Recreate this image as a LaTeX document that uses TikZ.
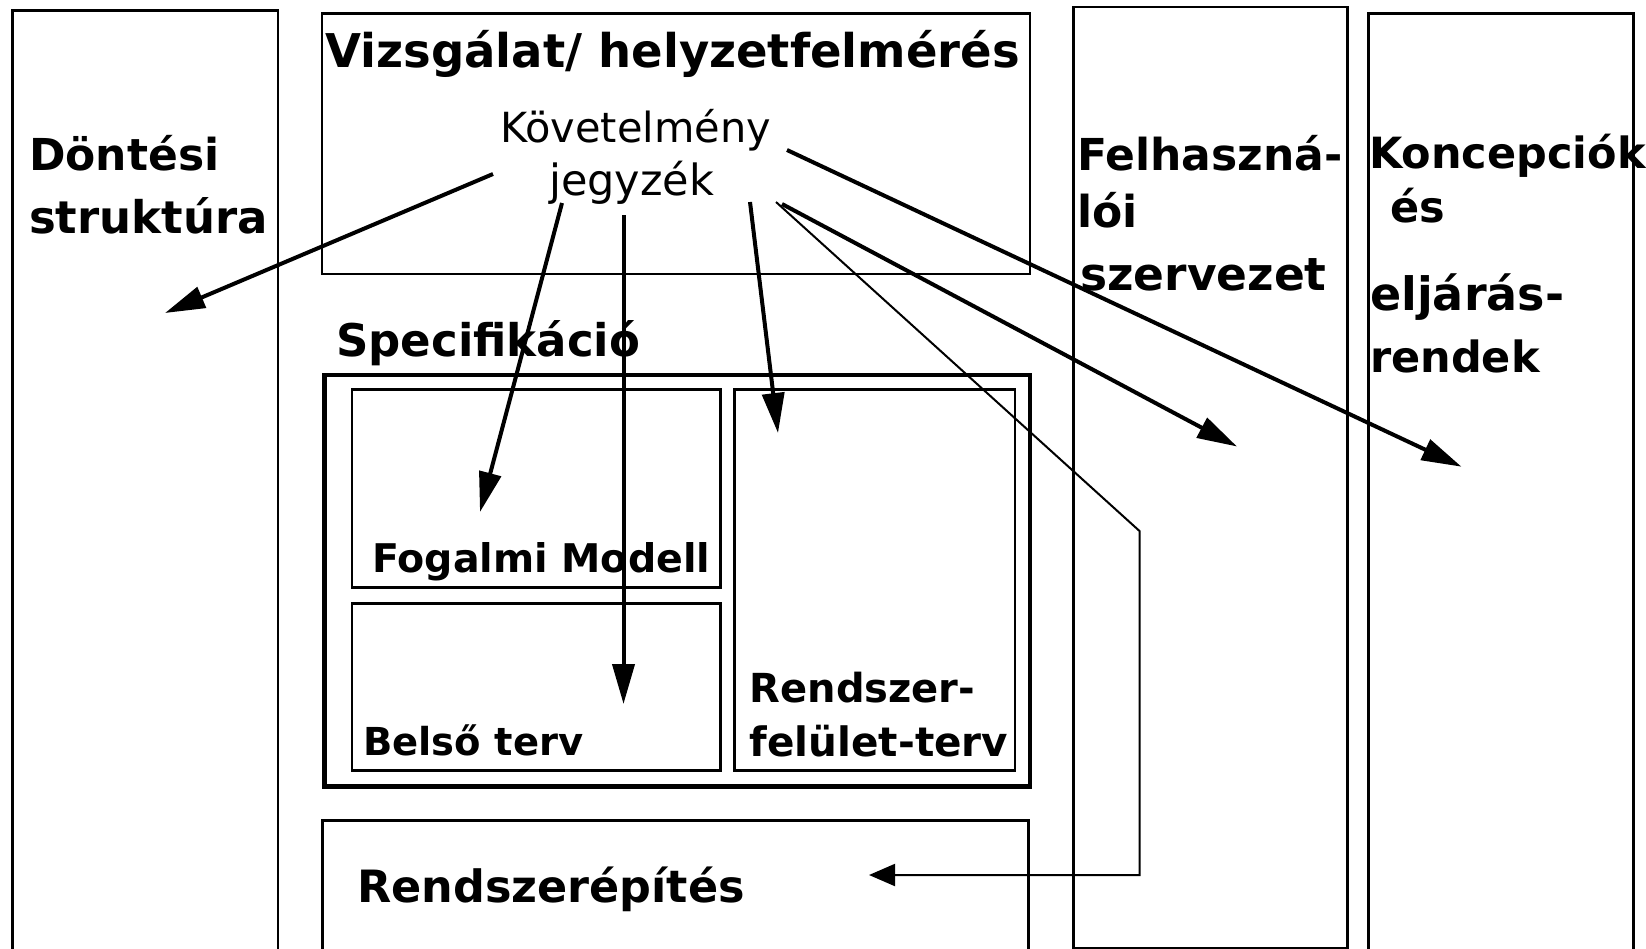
\documentclass[tikz,border=0pt]{standalone}
\usepackage{fontspec}
\setmainfont{DejaVu Sans}
\usepackage{tikz}
\usetikzlibrary{arrows.meta}
\tikzset{
  Kasten/.style={draw,line width=#1,inner sep=0pt,anchor=north west}, % Rahmen
  Kasten/.default=2.5pt,
  Pfeil/.style={line width=4pt,-{Triangle[length=40pt,width=22pt]}}, % dicke Pfeile
  DPfeil/.style={line width=2pt,-{Triangle[length=26pt,width=22pt]}}, % duenner Pfeil
  Schrift/.style={inner sep=0pt,anchor=base west,font=\bfseries\fontsize{#1}{#1}\selectfont},
  DSchrift/.style={inner sep=0pt,anchor=base west,font=\fontsize{#1}{#1}\selectfont}
}

\begin{document}
\begin{tikzpicture}[x=1pt,y=-1pt]
\useasboundingbox (0,0) rectangle (1646,948);

%Kaesten
\node[Kasten,minimum width=265.6pt,minimum height=960pt] (DS) at (11,9.3) {};
\node[Kasten,minimum width=708.1pt,minimum height=260.4pt] (VH) at (320.7,12.3) {};
\node[Kasten=4.5pt,minimum width=705.5pt,minimum height=411.5pt] (SP) at (322,372.5) {};
\node[Kasten,minimum width=368.5pt,minimum height=198pt] (FM) at (350.5,388) {};
\node[Kasten,minimum width=368.5pt,minimum height=167pt] (BT) at (350.5,602) {};
\node[Kasten,minimum width=280.5pt,minimum height=381pt] (RF) at (733,388) {};
\node[Kasten,minimum width=706pt,minimum height=160pt] (RE) at (321,819) {};
\node[Kasten,minimum width=274.4pt,minimum height=941pt] (FS) at (1072,5.7) {};
\node[Kasten,minimum width=264.6pt,minimum height=960pt] (KE) at (1367.4,12.3) {};

%Texte
\node[Schrift=46.5] (tVH) at (325,67) {Vizsgálat/ helyzetfelmérés};
\node[DSchrift=41.5] (tKov) at (500,142) {Követelmény};
\node[DSchrift=43] (tJeg) at (549,195) {jegyzék};
\node[Schrift=44] (tDS1) at (29,170) {Döntési};
\node[Schrift=45] (tDS2) at (29,233) {struktúra};
\node[Schrift=45] (tSP) at (336,356) {Specifikáció};
\node[Schrift=39.5] (tFM) at (372,572) {Fogalmi Modell};
\node[Schrift=38.5] (tBT) at (363,755) {Belső terv};
\node[Schrift=40] (tRF1) at (749.5,702) {Rendszer-};
\node[Schrift=40.5] (tRF2) at (749.5,756) {felület-terv};
\node[Schrift=44.5] (tRE) at (357,902) {Rendszerépítés};
\node[Schrift=44] (tFS1) at (1077,170) {Felhaszná-};
\node[Schrift=44] (tFS2) at (1077,227) {lói};
\node[Schrift=45.5] (tFS3) at (1080,290) {szervezet};
\node[Schrift=43] (tKE1) at (1369,168) {Koncepciók};
\node[Schrift=43] (tKE2) at (1390,222) {és};
\node[Schrift=46] (tKE3) at (1370,310) {eljárás-};
\node[Schrift=43] (tKE4) at (1370,372) {rendek};

%Pfeilpunkte
\coordinate (a1) at (493,174);  \coordinate (b1) at (165,313);
\coordinate (a2) at (562,203);  \coordinate (b2) at (480,512);
\coordinate (a3) at (623.5,215);\coordinate (b3) at (623.5,704);
\coordinate (a4) at (750,202);  \coordinate (b4) at (778,433);
\coordinate (a5) at (782,204);  \coordinate (b5) at (1237,446.5);
\coordinate (a6) at (787,150);  \coordinate (b6) at (1461.5,466.7);
\coordinate (d0) at (776,202);  \coordinate (d1) at (1139.5,531);
\coordinate (d2) at (1139.5,875); \coordinate (d3) at (869,875);

%Pfeile
\draw[Pfeil] (a1) -- (b1);
\draw[Pfeil] (a2) -- (b2);
\draw[Pfeil] (a3) -- (b3);
\draw[Pfeil] (a4) -- (b4);
\draw[Pfeil] (a5) -- (b5);
\draw[Pfeil] (a6) -- (b6);
\draw[DPfeil] (d0) -- (d1) -- (d2) -- (d3);

\end{tikzpicture}
\end{document}
